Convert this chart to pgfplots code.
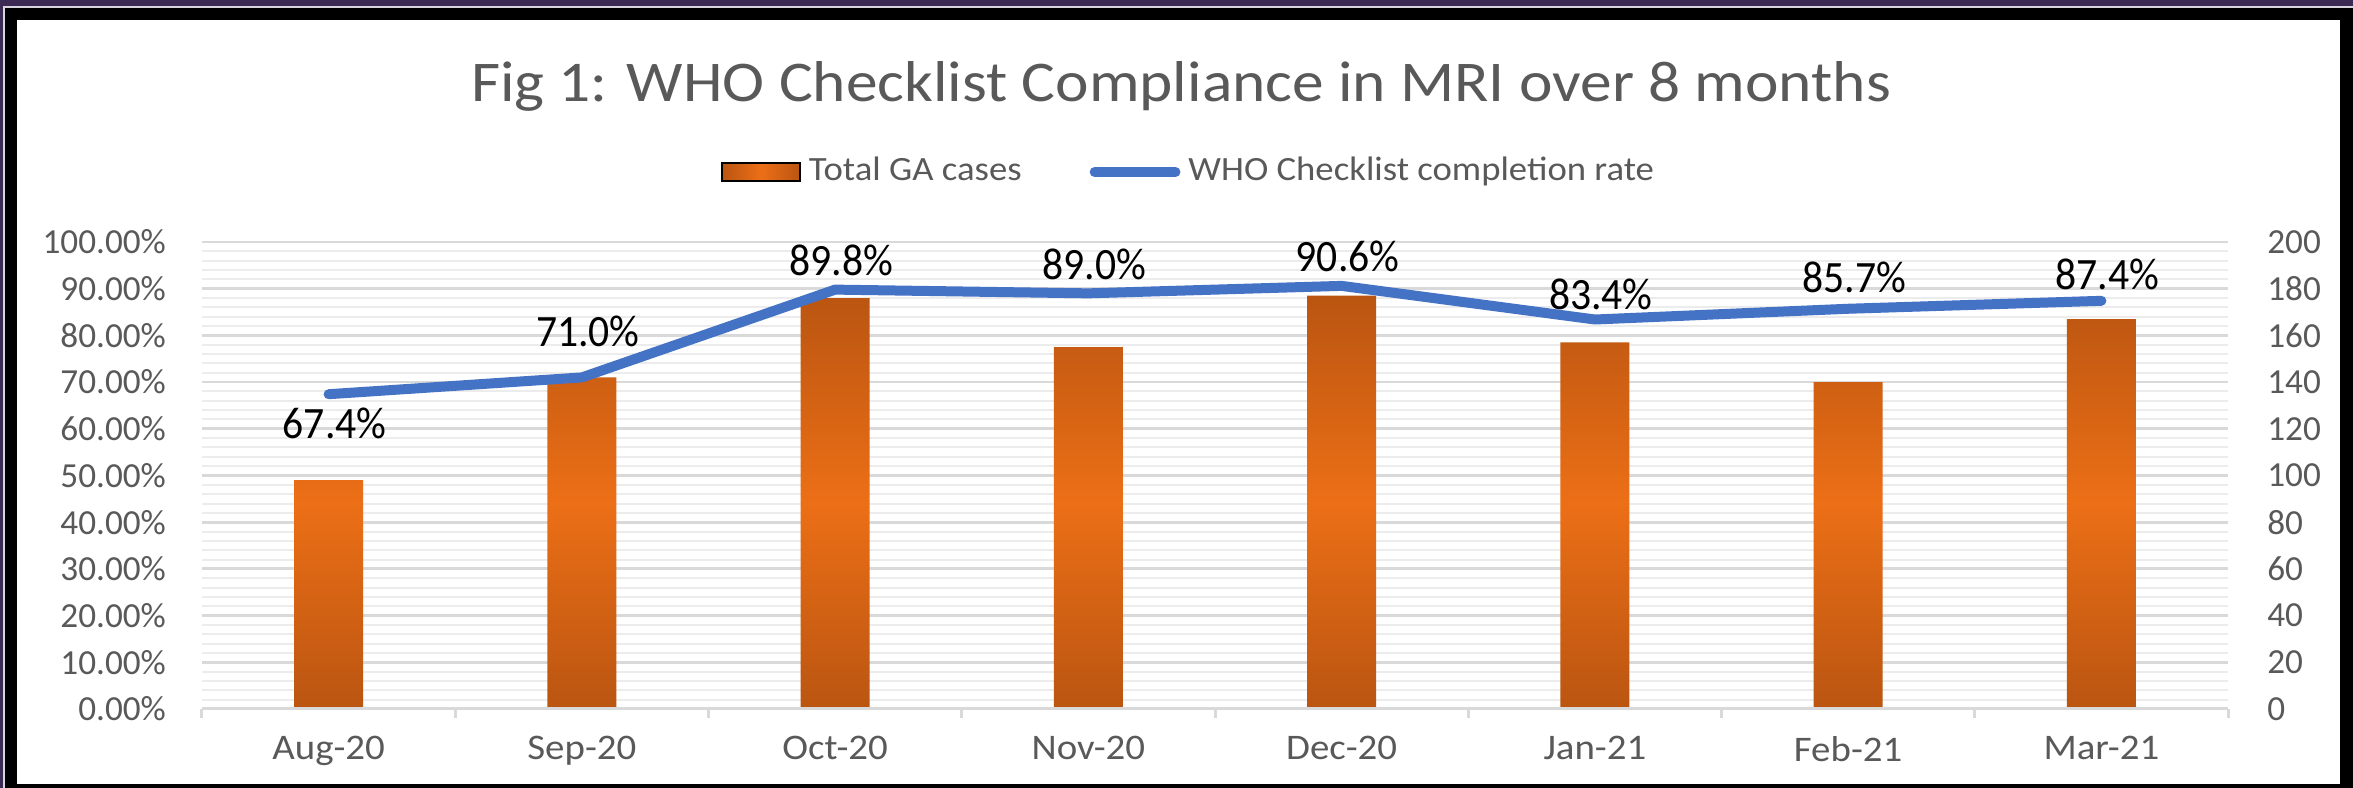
\documentclass[border=0pt]{standalone}
\usepackage{pgfplots}
\usepackage{pgfplotstable}
\pgfplotsset{compat=1.18}
\usepackage{fontspec}
\setmainfont{Carlito}
\newfontfamily\widefont{Carlito}[FakeStretch=1.08]
\newfontfamily\titlefont{Carlito}[FakeStretch=1.1]
\newfontfamily\narrowfont{Carlito}[FakeStretch=0.93]
\definecolor{bgpurple}{RGB}{60,42,84}
\definecolor{txtgray}{RGB}{89,89,89}
\definecolor{gridmaj}{RGB}{217,217,217}
\definecolor{gridmin}{RGB}{236,236,236}
\definecolor{bardark}{RGB}{186,85,17}
\definecolor{barbright}{RGB}{236,111,22}
\definecolor{lineblue}{RGB}{68,114,196}

\pgfplotstableread{
x n
0 98
1 142
2 176
3 155
4 177
5 157
6 140
7 167
}\casestable

\pgfplotstableread{
x r off
0 67.4 -12.4
1 71.0 6.3
2 89.8 2.3
3 89.0 2.2
4 90.6 2.3
5 83.4 1.2
6 85.7 2.6
7 87.4 1.5
}\ratetable

\begin{document}
\begin{tikzpicture}
\pgfkeys{/pgf/number format/assume math mode=true}
\begin{scope}[x=0.25pt,y=-0.25pt,shift={(-202,-709)}]
\fill[bgpurple] (0,0) rectangle (2353,788);
\fill[white!80!bgpurple] (3,6) rectangle (2353,788);
\fill[black] (5.5,8.5) rectangle (2353,788);
\fill[white] (17,20) rectangle (2340,784);
\node[anchor=base, text=txtgray, font=\titlefont\fontsize{14.4}{17}\selectfont, inner sep=0pt] at (1181,102) {Fig 1: WHO Checklist Compliance in MRI over 8 months};
\end{scope}

\begin{axis}[
  at={(0,0)}, anchor=south west, scale only axis,
  width=506.5pt, height=116.75pt,
  xmin=-0.5, xmax=7.5, ymin=0, ymax=200,
  hide x axis,
  axis y line*=right, y axis line style={draw=none},
  ytick={0,20,...,200}, minor y tick num=4,
  major tick length=0pt, minor tick length=0pt,
  ymajorgrids, yminorgrids,
  major grid style={gridmaj, line width=0.7pt},
  minor grid style={gridmin, line width=0.5pt},
  /pgf/number format/assume math mode=true,
  yticklabel style={font=\fontsize{8.8}{10}\selectfont, text=txtgray, xshift=6.3pt},
  ybar, bar width=17.25pt,
]
\addplot[draw=none, top color=bardark, bottom color=bardark, middle color=barbright] table[x=x,y=n] {\casestable};
\end{axis}

\begin{axis}[
  at={(0,0)}, anchor=south west, scale only axis,
  width=506.5pt, height=116.75pt,
  xmin=-0.5, xmax=7.5, ymin=0, ymax=100,
  axis x line*=bottom, axis y line*=left, y axis line style={draw=none},
  x axis line style={gridmaj, line width=0.75pt},
  xtick={0,...,7},
  xticklabels={Aug-20,Sep-20,Oct-20,Nov-20,Dec-20,Jan-21,Feb-21,Mar-21},
  minor xtick={-0.5,0.5,...,7.5},
  tick align=outside, major tick length=0pt, minor tick length=2.25pt,
  minor tick style={gridmaj, line width=0.75pt},
  ytick={0,10,...,100},
  yticklabels={0.00\%,10.00\%,20.00\%,30.00\%,40.00\%,50.00\%,60.00\%,70.00\%,80.00\%,90.00\%,100.00\%},
  /pgf/number format/assume math mode=true,
  yticklabel style={font=\fontsize{8.8}{10}\selectfont, text=txtgray, xshift=-5.5pt},
  xticklabel style={font=\widefont\fontsize{9}{10}\selectfont, text=txtgray, yshift=-3.25pt},
  clip=false,
  legend style={at={(axis description cs:0.4885,1.15)}, anchor=center, draw=none, fill=none,
    legend columns=-1, font=\widefont\fontsize{8.5}{10}\selectfont, text=txtgray,
    /tikz/every even column/.append style={column sep=15pt}},
  legend cell align=left,
]
\addlegendimage{legend image code/.code={\shade[left color=bardark,right color=bardark,middle color=barbright] (0pt,-2.2pt) rectangle (19.5pt,2.2pt);}}
\addlegendentry{Total GA cases}
\addplot[lineblue, line width=2.5pt, line join=round, line cap=round, mark=none,
  legend image code/.code={\draw[lineblue, line width=2.5pt, line cap=round] (1pt,0pt) -- (21.2pt,0pt);},
  point meta=explicit,
  nodes near coords={\pgfmathprintnumber[fixed,fixed zerofill,precision=1]{\pgfplotspointmeta}\%},
  visualization depends on={\thisrow{off} \as \myoff},
  every node near coord/.append style={anchor=south, inner sep=0pt, yshift=\myoff pt, xshift=1.5pt,
    font=\narrowfont\fontsize{11.2}{13}\selectfont, text=black},
] table[x=x, y=r, meta=r] {\ratetable};
\addlegendentry{WHO Checklist completion rate}
\end{axis}
\end{tikzpicture}
\end{document}
